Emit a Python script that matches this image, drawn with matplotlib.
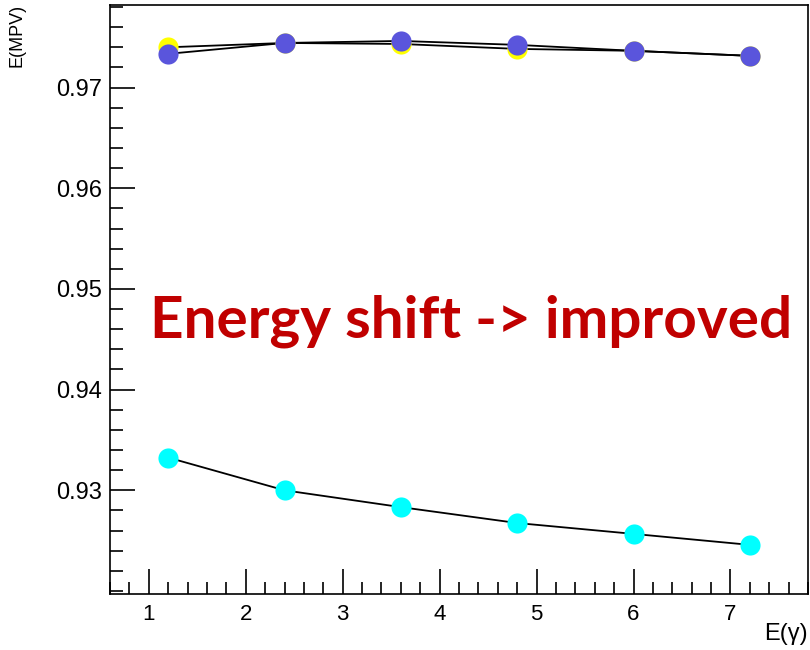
import matplotlib
matplotlib.use("Agg")
import matplotlib.pyplot as plt
from matplotlib.ticker import MultipleLocator

# photon energy points
e_gamma = [1.2, 2.4, 3.6, 4.8, 6.0, 7.2]

# MPV of energy ratio, three calibrations
mpv_old = [0.93325, 0.9300, 0.92833, 0.92675, 0.92567, 0.92458]
mpv_yellow = [0.9740, 0.97443, 0.97433, 0.97384, 0.97365, 0.97315]
mpv_blue = [0.97335, 0.97443, 0.97463, 0.97424, 0.97365, 0.97315]

plt.rcParams['font.family'] = ['Liberation Sans', 'DejaVu Sans']

fig = plt.figure(figsize=(8.1, 6.5), dpi=100)
ax = fig.add_axes([110/810, 1 - 594/650, 698/810, 589/650])

#fit-like curves drawn through the points
ax.plot(e_gamma, mpv_old, color='k', lw=1.3, zorder=2)
ax.plot(e_gamma, mpv_yellow, color='k', lw=1.3, zorder=2)
ax.plot(e_gamma, mpv_blue, color='k', lw=1.3, zorder=2)

ax.plot(e_gamma, mpv_old, 'o', color='#00ffff', ms=14.5, mec='none', zorder=3)
ax.plot(e_gamma, mpv_yellow, 'o', color='#ffff00', ms=14.5, mec='none', zorder=3)
ax.plot(e_gamma, mpv_blue, 'o', color='#5a55dc', ms=14.5, mec='none', zorder=4)

ax.set_xlim(0.6, 7.8)
ax.set_ylim(0.9197, 0.9782)
ax.xaxis.set_major_locator(MultipleLocator(1))
ax.xaxis.set_minor_locator(MultipleLocator(0.2))
ax.yaxis.set_major_locator(MultipleLocator(0.01))
ax.yaxis.set_minor_locator(MultipleLocator(0.002))
ax.tick_params(which='major', direction='in', length=18, width=1.2, top=False, right=False)
ax.tick_params(which='minor', direction='in', length=9, width=1.2, top=False, right=False)
ax.tick_params(axis='y', labelsize=17, pad=6)
ax.tick_params(axis='x', labelsize=16, pad=7)
ax.set_yticks([0.93, 0.94, 0.95, 0.96, 0.97])
ax.set_yticklabels(['0.93', '0.94', '0.95', '0.96', '0.97'])
for s in ax.spines.values():
    s.set_linewidth(1.2)

fig.text(808/810, 1 - 634/650, 'E(γ)', ha='right', va='center', fontsize=17)
fig.text(17/810, 1 - 4/650, 'E(MPV)', ha='center', va='top', rotation=90, fontsize=13)

fig.text(471/810, 1 - 337/650, 'Energy shift -> improved', ha='center', va='baseline',
         fontsize=42, fontweight='bold', color='#c00000', family=['Lato', 'DejaVu Sans'])

fig.savefig('out.png', dpi=100)
